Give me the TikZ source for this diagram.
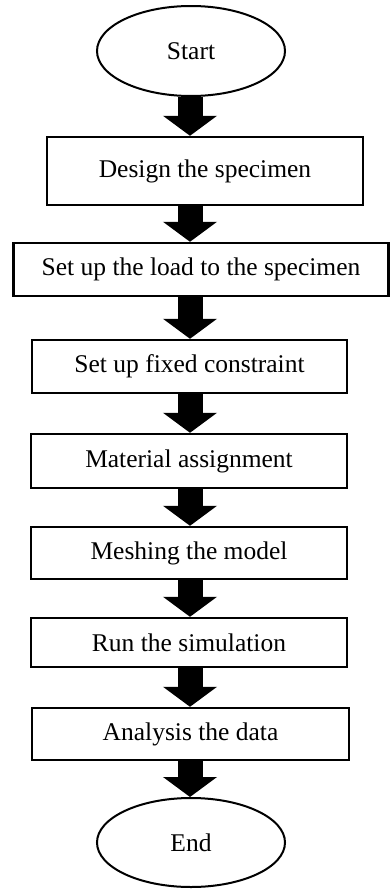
\documentclass[tikz,border=0pt]{standalone}
\usepackage{fontspec}
\setmainfont{Liberation Serif}
\usetikzlibrary{shapes.geometric,arrows.meta}
\begin{document}
\begin{tikzpicture}[x=1pt,y=1pt,
  stepbox/.style={draw=black,line width=2.4pt,rectangle,inner sep=0pt,font=\fontsize{25.5}{30}\selectfont},
  termbox/.style={draw=black,line width=2pt,ellipse,inner sep=0pt,minimum width=188pt,minimum height=90pt,font=\fontsize{25.5}{30}\selectfont},
  flow/.style={line width=25pt,black,-{Triangle[width=53pt,length=20pt]}}]
\useasboundingbox (0,0) rectangle (390,-889);
\coordinate (ax) at (190,0);
\node[termbox] (start) at (191,-51) {Start};
\node[stepbox,minimum width=316pt,minimum height=68pt] (b1) at (205,-171) {Design the specimen};
\node[stepbox,minimum width=375pt,minimum height=53pt] (b2) at (201,-269.5) {Set up the load to the specimen};
\node[stepbox,minimum width=315pt,minimum height=53pt] (b3) at (189.5,-366.5) {Set up fixed constraint};
\node[stepbox,minimum width=316pt,minimum height=54pt] (b4) at (189,-461) {Material assignment};
\node[stepbox,minimum width=316pt,minimum height=52pt] (b5) at (189,-553) {Meshing the model};
\node[stepbox,minimum width=316pt,minimum height=49pt] (b6) at (189,-642.5) {Run the simulation};
\node[stepbox,minimum width=317pt,minimum height=52pt] (b7) at (190.5,-734) {Analysis the data};
\node[termbox,minimum height=89pt] (end) at (191,-842.5) {End};
\draw[flow] (start.south -| ax) -- (b1.north -| ax);
\draw[flow] (b1.south -| ax) -- (b2.north -| ax);
\draw[flow] (b2.south -| ax) -- (b3.north -| ax);
\draw[flow] (b3.south -| ax) -- (b4.north -| ax);
\draw[flow] (b4.south -| ax) -- (b5.north -| ax);
\draw[flow] (b5.south -| ax) -- (b6.north -| ax);
\draw[flow] (b6.south -| ax) -- (b7.north -| ax);
\draw[flow] (b7.south -| ax) -- (end.north -| ax);
\end{tikzpicture}
\end{document}
